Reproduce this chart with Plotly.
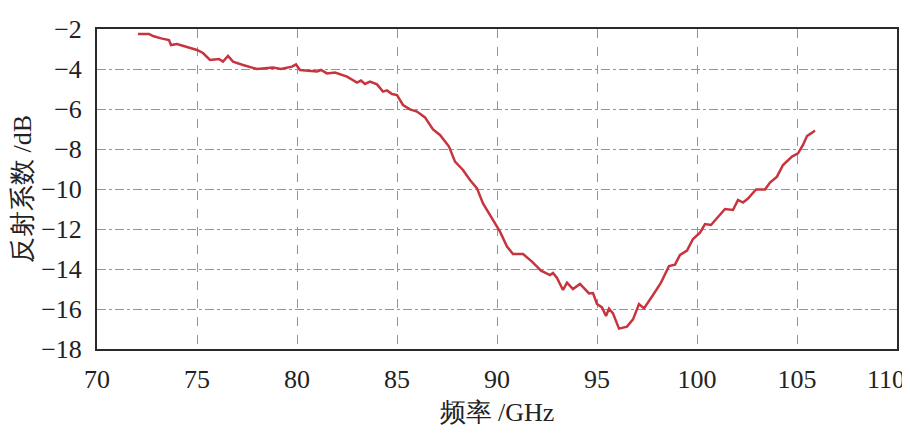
import plotly.graph_objects as go

freq_ghz = [72.05, 72.6, 72.8, 73.2, 73.6, 73.7, 74.0, 74.5, 75.0, 75.3, 75.65, 76.1, 76.3, 76.55, 76.8,
            77.3, 78.0, 78.8, 79.2, 79.75, 79.95, 80.15, 81.0, 81.2, 81.5, 81.9, 82.5, 83.0, 83.2,
            83.4, 83.65, 84.0, 84.3, 84.5, 84.75, 85.0, 85.3, 85.65, 86.0, 86.4, 86.8, 87.15, 87.6,
            87.9, 88.3, 88.65, 89.0, 89.3, 89.8, 90.15, 90.5, 90.8, 91.3, 91.75, 92.2, 92.65, 92.8,
            93.0, 93.3, 93.5, 93.8, 94.15, 94.6, 94.8, 95.0, 95.25, 95.45, 95.6, 95.8, 96.1, 96.5,
            96.8, 97.1, 97.35, 97.8, 98.2, 98.6, 98.9, 99.15, 99.5, 99.8, 100.15, 100.4, 100.7,
            101.4, 101.8, 102.05, 102.3, 102.55, 102.95, 103.4, 103.65, 104.0, 104.3, 104.75,
            105.05, 105.3, 105.5, 105.7, 105.9]
reflection_db = [-2.25, -2.25, -2.35, -2.47, -2.55, -2.8, -2.75, -2.9, -3.05, -3.2, -3.55, -3.5, -3.63,
                 -3.35, -3.63, -3.8, -4.0, -3.93, -4.0, -3.88, -3.77, -4.05, -4.13, -4.05, -4.22,
                 -4.18, -4.38, -4.68, -4.58, -4.75, -4.63, -4.77, -5.13, -5.07, -5.25, -5.3, -5.8,
                 -6.02, -6.13, -6.42, -7.02, -7.3, -7.88, -8.63, -9.05, -9.55, -9.97, -10.72,
                 -11.55, -12.13, -12.88, -13.25, -13.25, -13.63, -14.08, -14.3, -14.2, -14.45,
                 -15.05, -14.68, -15.0, -14.75, -15.22, -15.2, -15.75, -15.92, -16.35, -15.98,
                 -16.22, -16.98, -16.88, -16.52, -15.75, -15.97, -15.3, -14.68, -13.85, -13.78,
                 -13.3, -13.08, -12.5, -12.18, -11.75, -11.8, -11.0, -11.05, -10.55, -10.68,
                 -10.48, -10.02, -10.02, -9.68, -9.38, -8.8, -8.38, -8.22, -7.8, -7.35, -7.22, -7.08]

x_ticks = [70, 75, 80, 85, 90, 95, 100, 105, 110]
x_tick_labels = ["70", "75", "80", "85", "90", "95", "100", "105", ""]
x_last_label = "110"
y_ticks = [-2, -4, -6, -8, -10, -12, -14, -16, -18]
x_title = "频率 /GHz"
y_title = "反射系数 /dB"

font_fam = "Liberation Serif, Times New Roman, serif"
txt_color = "#222222"
fsize = 26

fig = go.Figure(go.Scatter(
    x=freq_ghz, y=reflection_db, mode="lines",
    line=dict(color="#c8343e", width=2.5),
    showlegend=False,
))

axis_common = dict(
    showline=True, linecolor="#2a2a2a", linewidth=2, mirror=True,
    ticks="outside", tickcolor="rgba(0,0,0,0)",
    showgrid=True, gridcolor="#8a979e", gridwidth=1,
    zeroline=False, ticklabeloverflow="allow", automargin=False,
    tickfont=dict(family=font_fam, size=fsize, color=txt_color),
)

fig.update_xaxes(range=[70, 110.0001], tickvals=x_ticks, ticktext=x_tick_labels,
                 griddash="dash", ticklen=6,
                 title=dict(text=x_title, font=dict(family=font_fam, size=fsize, color=txt_color), standoff=10),
                 **axis_common)
fig.update_yaxes(range=[-18, -2], tickvals=y_ticks, griddash="dashdot", ticklen=8,
                 title=dict(text=y_title, font=dict(family=font_fam, size=fsize, color=txt_color), standoff=14),
                 **axis_common)

# last x tick label, pulled inward as in the reference
fig.add_annotation(x=x_ticks[-1], xref="x", y=0, yref="paper", text=x_last_label,
                   showarrow=False, xanchor="center", yanchor="middle",
                   xshift=-11, yshift=-30,
                   font=dict(family=font_fam, size=fsize, color=txt_color))

fig.update_layout(
    width=902, height=426,
    margin=dict(l=89, r=13, t=21, b=85, autoexpand=False),
    plot_bgcolor="white", paper_bgcolor="white",
    font=dict(family=font_fam),
)

fig.write_html("out.html")
